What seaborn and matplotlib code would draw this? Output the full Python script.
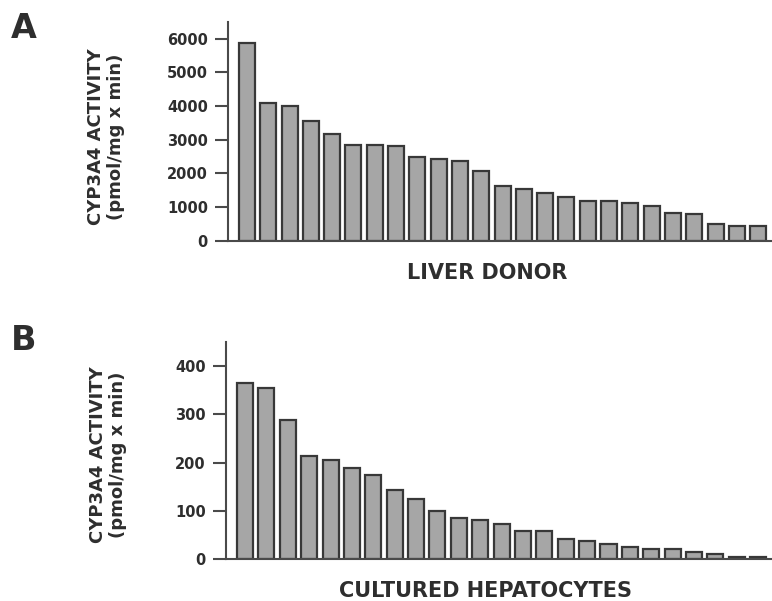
import matplotlib
matplotlib.use("Agg")
import matplotlib.pyplot as plt
import pandas as pd
import seaborn as sns

# bar heights, sorted high -> low as in the figure
liver_donor = [5880, 4090, 3990, 3560, 3175, 2840, 2840, 2820, 2480, 2440,
               2370, 2075, 1640, 1540, 1430, 1300, 1190, 1180, 1130, 1040,
               830, 795, 490, 430, 430]
hepatocytes = [364, 355, 288, 214, 205, 189, 174, 143, 125, 100,
               85, 81, 72, 58, 58, 42, 37, 31, 26, 21,
               21, 15, 10, 4, 4]

y_label = "CYP3A4 ACTIVITY\n(pmol/mg x min)"
panels = [
  ("A", liver_donor, "LIVER DONOR", [0, 1000, 2000, 3000, 4000, 5000, 6000], 6500),
  ("B", hepatocytes, "CULTURED HEPATOCYTES", [0, 100, 200, 300, 400], 450),
]

sns.set_style("ticks")
plt.rcParams['font.family'] = ['DejaVu Sans']
text_col = "#2e2e2e"
line_col = "#4a4a4a"

fig = plt.figure(figsize=(7.72, 6.01), dpi=100)
axes_pos = [[0.2953, 0.5995, 0.7034, 0.3639], [0.2927, 0.0694, 0.7060, 0.3621]]
letter_y = [1 - 28 / 601, 1 - 340 / 601]
ylabel_x = [-0.225, -0.217]
ylabel_y = [0.474, 0.479]

for i, (letter, vals, xlab, yticks, ytop) in enumerate(panels):
  ax = fig.add_axes(axes_pos[i])
  df = pd.DataFrame({"donor": [str(k) for k in range(len(vals))], "activity": vals})
  sns.barplot(data=df, x="donor", y="activity", color="#a6a6a6", saturation=1,
              edgecolor="#383838", linewidth=1.6, width=0.75, ax=ax)
  ax.set_xlim(-0.89, 24.6)
  ax.set_ylim(0, ytop)
  ax.set_yticks(yticks)
  ax.set_xticks([])
  sns.despine(ax=ax)
  for s in ["left", "bottom"]:
    ax.spines[s].set_color(line_col)
    ax.spines[s].set_linewidth(1.5)
  ax.tick_params(axis="y", length=9.5, width=1.5, color=line_col, pad=5,
                 labelsize=10.5, labelcolor=text_col)
  for t in ax.get_yticklabels():
    t.set_fontweight("bold")

  ax.set_xlabel(xlab, fontsize=15, fontweight="bold", color=text_col)
  ax.xaxis.set_label_coords(0.477, -0.148)
  ax.xaxis.label.set_va("center")
  ax.set_ylabel(y_label, fontsize=13, fontweight="bold", color=text_col, linespacing=1.15)
  ax.yaxis.set_label_coords(ylabel_x[i], ylabel_y[i])
  ax.yaxis.label.set_va("center")

  fig.text(24 / 772, letter_y[i], letter, fontsize=24, fontweight="bold",
           color=text_col, ha="center", va="center")

fig.savefig("out.png", dpi=100, facecolor="white")
